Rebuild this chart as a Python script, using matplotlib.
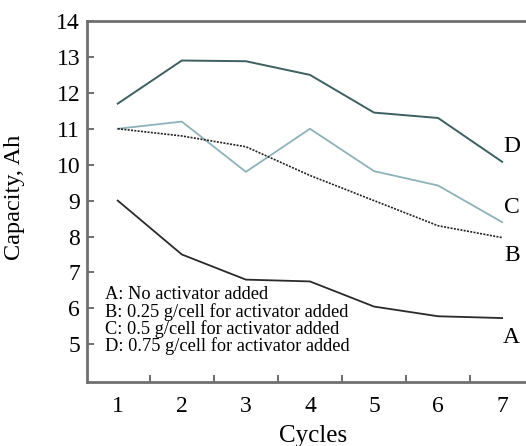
import matplotlib.pyplot as plt

plt.rcParams['font.family'] = ['Liberation Serif', 'DejaVu Serif']

cycles = [1, 2, 3, 4, 5, 6, 7]
cap_a = [9.0, 7.5, 6.8, 6.75, 6.05, 5.78, 5.73]
cap_b = [11.0, 10.8, 10.5, 9.7, 9.0, 8.3, 7.97]
cap_c = [11.0, 11.2, 9.8, 11.0, 9.82, 9.42, 8.4]
cap_d = [11.7, 12.9, 12.88, 12.5, 11.45, 11.3, 10.08]
end_labels = ["D", "C", "B", "A"]
end_label_y = [10.5, 8.8, 7.46, 5.18]
legend_lines = ["A: No activator added",
                "B: 0.25 g/cell for activator added",
                "C: 0.5 g/cell for activator added",
                "D: 0.75 g/cell for activator added"]

fig = plt.figure(figsize=(5.26, 4.46), dpi=100)
# axes run past the right edge, like the scanned original
ax = fig.add_axes([87/526, 1 - 382/446, 460/526, 361/446])

ax.plot(cycles, cap_d, color="#3d5f5f", lw=1.4)
ax.plot(cycles, cap_c, color="#8fb1b9", lw=1.3)
ax.plot(cycles, cap_b, color="#222222", lw=1.2, ls=(0, (1.2, 0.8)))
ax.plot(cycles, cap_a, color="#2a2a2a", lw=1.3)

for lab, y in zip(end_labels, end_label_y):
    ax.text(7.15, y, lab, fontsize=17, ha="center", va="center")

ax.text(0.8, 6.62, "\n".join(legend_lines), fontsize=13.2, va="top",
        linespacing=0.97)

ax.set_xlim(0.52, 7.7)
ax.set_ylim(3.95, 14)
ax.set_yticks([5, 6, 7, 8, 9, 10, 11, 12, 13, 14])
ax.set_xticks([1.5, 2.5, 3.5, 4.5, 5.5, 6.5])
ax.set_xticklabels([])
for c in cycles:
    ax.text(c, 3.28, str(c), fontsize=17, ha="center", va="center")
ax.tick_params(direction="in", length=5, width=1.2, labelsize=17, color="#555555")
ax.tick_params(axis="y", pad=5)
for s in ["left", "bottom", "top"]:
    ax.spines[s].set_linewidth(2)
    ax.spines[s].set_color("#707070")
ax.spines["right"].set_visible(False)

ax.text(4.05, 2.75, "Cycles", fontsize=18, ha="center", va="top")
ax.set_ylabel("Capacity, Ah", fontsize=17.5)
ax.yaxis.set_label_coords(-0.135, 0.512)

fig.savefig("out.png", dpi=100)
